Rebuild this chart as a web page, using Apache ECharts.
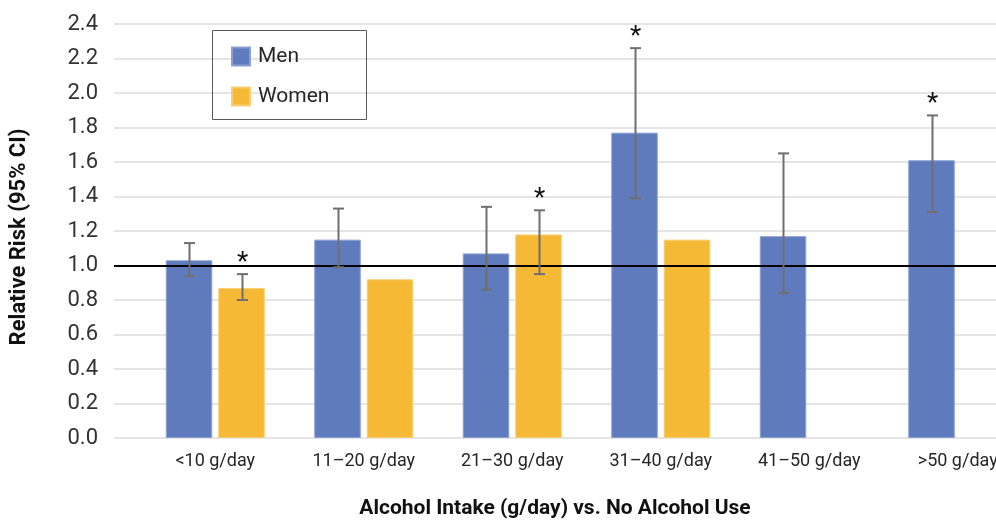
<!DOCTYPE html>
<html>
<head>
<meta charset="utf-8">
<script src="https://cdn.jsdelivr.net/npm/echarts@6/dist/echarts.min.js"></script>
<style>
html,body{margin:0;padding:0;background:#fff;}
#chart{width:996px;height:520px;}
</style>
</head>
<body>
<div id="chart"></div>
<script>
// ---- data ----
const categories = ['<10 g/day', '11\u201320 g/day', '21\u201330 g/day', '31\u201340 g/day', '41\u201350 g/day', '>50 g/day'];
const seriesNames = ['Men', 'Women'];
const menRR = [1.03, 1.15, 1.07, 1.77, 1.17, 1.61];
const menLow = [0.94, 0.99, 0.86, 1.39, 0.84, 1.31];
const menHigh = [1.13, 1.33, 1.34, 2.26, 1.65, 1.87];
const menSignificant = [false, false, false, true, false, true];
const womenRR = [0.87, 0.92, 1.18, 1.15, null, null];
const womenLow = [0.80, null, 0.95, null, null, null];
const womenHigh = [0.95, null, 1.32, null, null, null];
const womenSignificant = [true, false, true, false, false, false];
const yTicks = { min: 0, max: 2.4, interval: 0.2 };
const referenceValue = 1.0;
const xAxisTitle = 'Alcohol Intake (g/day) vs. No Alcohol Use';
const yAxisTitle = 'Relative Risk (95% CI)';

// ---- style ----
const FONT = 'Roboto';
const MEN_COLOR = '#5f7abd';
const WOMEN_COLOR = '#f5b936';
const BAR_W = 46.5;
const BAR_GAP_PX = 6;
const OFFSET = (BAR_W + BAR_GAP_PX) / 2;

function errData(low, high, sig, sign) {
  const out = [];
  for (let i = 0; i < categories.length; i++) {
    if (low[i] != null && high[i] != null) out.push([i, low[i], high[i], sig[i] ? 1 : 0, sign]);
  }
  return out;
}

function renderErr(params, api) {
  const cat = api.value(0);
  const lo = api.coord([cat, api.value(1)]);
  const hi = api.coord([cat, api.value(2)]);
  const sign = api.value(4);
  const x = Math.round(lo[0] + sign * OFFSET) + 0.5;
  const capHalf = 5.5;
  const style = { stroke: '#6f6f6f', lineWidth: 2 };
  const children = [
    { type: 'line', shape: { x1: x, y1: lo[1], x2: x, y2: hi[1] }, style: style },
    { type: 'line', shape: { x1: x - capHalf, y1: lo[1], x2: x + capHalf, y2: lo[1] }, style: style },
    { type: 'line', shape: { x1: x - capHalf, y1: hi[1], x2: x + capHalf, y2: hi[1] }, style: style }
  ];
  if (api.value(3) === 1) {
    children.push({
      type: 'text',
      style: { text: '*', x: x, y: hi[1] - 11, align: 'center', verticalAlign: 'middle',
               fill: '#111', font: '26px ' + FONT }
    });
  }
  return { type: 'group', children: children };
}

const chart = echarts.init(document.getElementById('chart'), null, { renderer: 'canvas' });
chart.setOption({
  animation: false,
  backgroundColor: '#ffffff',
  textStyle: { fontFamily: FONT },
  grid: [
    { left: 114, right: 0, top: 24, bottom: 82, containLabel: false, outerBoundsMode: 'none' },
    { left: 141, right: -36, top: 24, bottom: 82, containLabel: false, outerBoundsMode: 'none' }
  ],
  legend: {
    data: seriesNames,
    orient: 'vertical',
    left: 231,
    top: 46,
    padding: 0,
    icon: 'rect',
    itemWidth: 18,
    itemHeight: 18,
    itemGap: 19,
    textStyle: { fontFamily: FONT, fontSize: 21, color: '#262626', lineHeight: 18, padding: [0, 0, 0, 3] }
  },
  graphic: [
    { type: 'rect', shape: { x: 212.5, y: 30.5, width: 154, height: 89 },
      style: { fill: 'none', stroke: '#595959', lineWidth: 1 }, z: 100, silent: true }
  ],
  xAxis: [
    { type: 'category', gridIndex: 0, data: categories,
      axisLine: { show: false }, axisTick: { show: false }, axisLabel: { show: false },
      name: xAxisTitle, nameLocation: 'middle', nameGap: 60,
      nameTextStyle: { fontFamily: FONT, fontSize: 21, fontWeight: 'bold', color: '#111' } },
    { type: 'category', gridIndex: 1, data: categories,
      axisLine: { show: false }, axisTick: { show: false },
      axisLabel: { fontFamily: FONT, fontSize: 18, color: '#262626', margin: 14 } }
  ],
  yAxis: [
    { type: 'value', gridIndex: 0, min: yTicks.min, max: yTicks.max, interval: yTicks.interval,
      axisLine: { show: false }, axisTick: { show: false },
      axisLabel: { fontFamily: FONT, fontSize: 22, color: '#333', margin: 16,
                   formatter: v => v.toFixed(1) },
      splitLine: { lineStyle: { color: '#dcdcdc', width: 1.5 } },
      name: yAxisTitle, nameLocation: 'middle', nameGap: 84, nameRotate: 90,
      nameTextStyle: { fontFamily: FONT, fontSize: 22, fontWeight: 'bold', color: '#111', padding: [0, 12, 0, 0] } },
    { type: 'value', gridIndex: 1, min: yTicks.min, max: yTicks.max, interval: yTicks.interval,
      show: false, splitLine: { show: false } }
  ],
  series: [
    { name: 'ref', type: 'line', xAxisIndex: 0, yAxisIndex: 0, data: [], silent: true,
      markLine: { silent: true, symbol: 'none', label: { show: false },
                  lineStyle: { color: '#000', width: 2, type: 'solid' },
                  data: [{ yAxis: referenceValue }] }, z: 5 },
    { name: seriesNames[0], type: 'bar', xAxisIndex: 1, yAxisIndex: 1, data: menRR,
      barWidth: BAR_W, barGap: (BAR_GAP_PX / BAR_W * 100) + '%',
      itemStyle: { color: MEN_COLOR, borderColor: '#8aa0d2', borderWidth: 1 }, z: 2 },
    { name: seriesNames[1], type: 'bar', xAxisIndex: 1, yAxisIndex: 1, data: womenRR,
      barWidth: BAR_W, barGap: (BAR_GAP_PX / BAR_W * 100) + '%',
      itemStyle: { color: WOMEN_COLOR, borderColor: '#f8cf72', borderWidth: 1 }, z: 2 },
    { name: 'menErr', type: 'custom', xAxisIndex: 1, yAxisIndex: 1, renderItem: renderErr,
      data: errData(menLow, menHigh, menSignificant, -1), z: 10, silent: true },
    { name: 'womenErr', type: 'custom', xAxisIndex: 1, yAxisIndex: 1, renderItem: renderErr,
      data: errData(womenLow, womenHigh, womenSignificant, 1), z: 10, silent: true }
  ]
});
</script>
</body>
</html>
